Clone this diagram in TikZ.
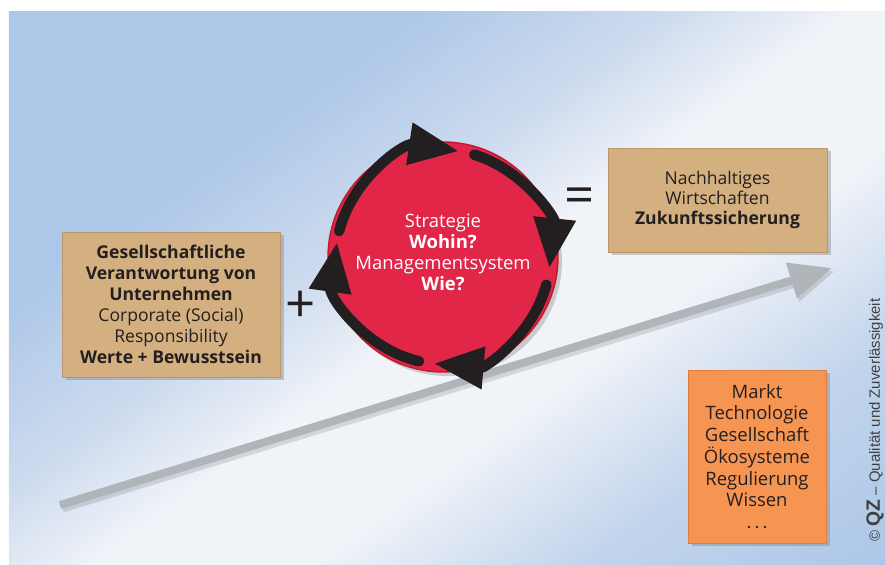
\documentclass[tikz,border=0pt]{standalone}
\usepackage{fontspec}
\setmainfont{Open Sans}
\newfontfamily\qzfont{Liberation Sans}
\usepackage{tikz}
\usetikzlibrary{arrows.meta,shapes,positioning,shadows}
\usepackage{xcolor}
\definecolor{qzblue}{RGB}{163,194,230}
\definecolor{qzbluemid}{RGB}{194,212,236}
\definecolor{qzwhite}{RGB}{240,243,248}
\definecolor{qzbluelight}{RGB}{204,218,238}
\definecolor{qzbluelow}{RGB}{172,199,232}
\definecolor{qztan}{RGB}{212,176,128}
\definecolor{qztanline}{RGB}{186,150,104}
\definecolor{qzorange}{RGB}{246,148,82}
\definecolor{qzorangeline}{RGB}{222,126,64}
\definecolor{qzred}{RGB}{226,38,72}
\definecolor{qzdarkred}{RGB}{192,24,44}
\definecolor{qzgray}{RGB}{176,181,186}
\definecolor{qztext}{RGB}{35,31,32}
\pgfdeclareverticalshading{qzband}{100bp}{color(0bp)=(qzblue); color(10bp)=(qzblue); color(28bp)=(qzbluemid); color(39.5bp)=(qzwhite); color(49bp)=(qzwhite); color(57bp)=(qzbluelight); color(68bp)=(qzbluelow); color(100bp)=(qzbluelow)}
\tikzstyle{infobox} = [rectangle, draw=qztanline, fill=qztan, line width=0.5pt, text=qztext, align=center, font=\fontsize{10}{11.9}\selectfont, drop shadow={shadow xshift=0.07cm, shadow yshift=-0.07cm, opacity=0.4}]
\tikzstyle{cyclearrow} = [line width=0.21cm, color=qztext, line cap=round, -{Triangle[length=1cm,width=0.8cm]}]
\tikzstyle{opsign} = [font=\fontsize{30}{30}\selectfont, text=qztext, inner sep=0pt]

\begin{document}
\begin{tikzpicture}
\useasboundingbox (0,0) rectangle (17.7,11.3);
% Background panel
\shade[shading=qzband, shading angle=36] (0.18,0) rectangle (17.7,11.06);

% Trend arrow
\coordinate (trendstart) at (1.2,1.2);
\coordinate (trendend) at (16.64,5.94);
\draw[line width=0.16cm, black, opacity=0.12, -{Triangle[length=0.85cm,width=0.7cm]}] ([shift={(0.05,-0.07)}]trendstart) -- ([shift={(0.05,-0.07)}]trendend);
\draw[line width=0.16cm, qzgray, -{Triangle[length=0.85cm,width=0.7cm]}] (trendstart) -- (trendend);

% Boxes
\node (csr) [infobox, minimum width=4.36cm, minimum height=2.9cm] at (3.42,5.21) {\textbf{Gesellschaftliche}\\\textbf{Verantwortung von}\\\textbf{Unternehmen}\\Corporate (Social)\\Responsibility\\\textbf{Werte + Bewusstsein}};
\node (result) [infobox, minimum width=4.38cm, minimum height=2.08cm, font=\fontsize{10}{11.2}\selectfont] at (14.35,7.30) {Nachhaltiges\\Wirtschaften\\\textbf{Zukunftssicherung}};
\node (factors) [infobox, fill=qzorange, draw=qzorangeline, minimum width=2.76cm, minimum height=3.46cm, font=\fontsize{10.5}{12.4}\selectfont] at (15.14,2.17) {Markt\\Technologie\\Gesellschaft\\Ökosysteme\\Regulierung\\Wissen\\.\,.\,.};

% Management cycle
\node (cycle) [circle, minimum size=4.6cm, fill=qzred, draw=qzdarkred, line width=0.8pt, drop shadow={shadow xshift=0.08cm, shadow yshift=-0.08cm, opacity=0.35}] at (8.86,6.16) {};
\node (cycletext) [text=white, align=center, font=\fontsize{10.5}{12}\selectfont] at ([yshift=0.09cm]cycle.center) {Strategie\\\textbf{Wohin?}\\Managementsystem\\\textbf{Wie?}};
\draw[cyclearrow] (cycle.center) ++(166:2.14) arc[start angle=166, end angle=81.5, radius=2.14];
\draw[cyclearrow] (cycle.center) ++(73:2.14) arc[start angle=73, end angle=-6, radius=2.14];
\draw[cyclearrow] (cycle.center) ++(-15:2.14) arc[start angle=-15, end angle=-95, radius=2.14];
\draw[cyclearrow] (cycle.center) ++(-103:2.14) arc[start angle=-103, end angle=-188, radius=2.14];

% Plus and equals
\node (plus) [opsign] at (6.02,5.16) {+};
\node (equals) [opsign] at (11.6,7.28) {=};

% Source
\node (source) [rotate=90, text=black!75, font=\qzfont\fontsize{8.5}{10}\selectfont] at (17.5,2.9) {© {\fontsize{11}{12}\selectfont\textbf{QZ}} – Qualität und Zuverlässigkeit};
\end{tikzpicture}
\end{document}
